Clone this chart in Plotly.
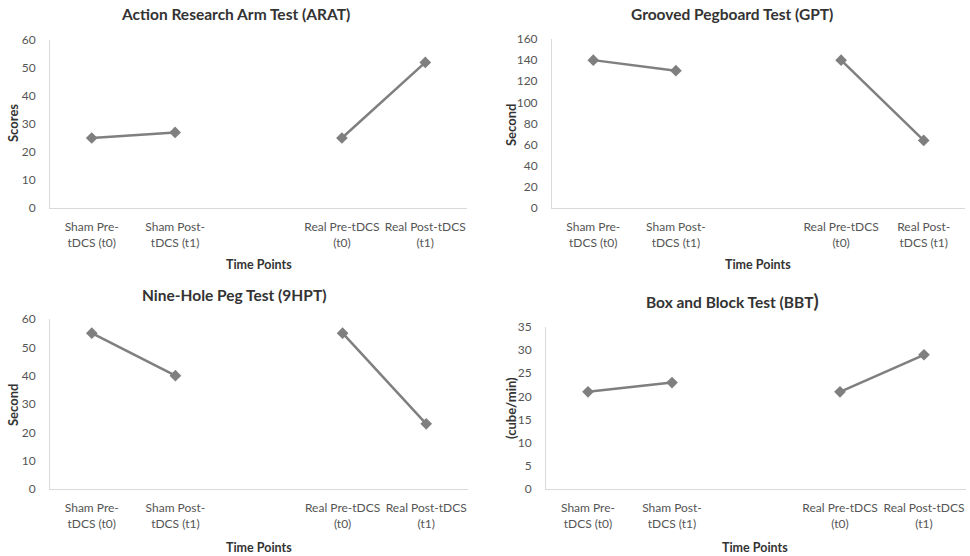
import plotly.graph_objects as go

# ---- data ----
sham_cats = ["Sham Pre-<br>tDCS (t0)", "Sham Post-<br>tDCS (t1)"]
real_cats_a = ["Real Pre-tDCS<br>(t0)", "Real Post-tDCS<br>(t1)"]
real_cats_b = ["Real Pre-tDCS<br>(t0)", "Real Post-<br>tDCS (t1)"]
gap_cat = " "

titles = ["Action Research Arm Test (ARAT)", "Grooved Pegboard Test (GPT)",
          "Nine-Hole Peg Test (9HPT)", "Box and Block Test (BBT<span style='font-size:19px'>)</span>"]
y_titles = ["Scores", "Second", "Second", "(cube/min)"]
x_title = "Time Points"

arat_sham = [25, 27]
arat_real = [25, 52]
gpt_sham = [140, 130]
gpt_real = [140, 64]
nhpt_sham = [55, 40]
nhpt_real = [55, 23]
bbt_sham = [21, 23]
bbt_real = [21, 29]

y_max = [60, 160, 60, 35]
y_step = [10, 20, 10, 5]

# ---- layout geometry (pixels) ----
W, H = 970, 556
panels = [
    dict(x0=50, x1=467, ytop=40, ybot=208, tx=235, ty=14, ax=13, ay=123, px=259, py=265),
    dict(x0=552, x1=965, ytop=39, ybot=208, tx=732, ty=14, ax=511, ay=125, px=758, py=265),
    dict(x0=50, x1=468, ytop=319, ybot=489, tx=234, ty=295, ax=13, ay=405, px=259, py=547),
    dict(x0=546, x1=966, ytop=327, ybot=489, tx=732, ty=300, ax=511, ay=408, px=755, py=547),
]
series = [(arat_sham, arat_real, real_cats_a), (gpt_sham, gpt_real, real_cats_b),
          (nhpt_sham, nhpt_real, real_cats_a), (bbt_sham, bbt_real, real_cats_a)]

FONT = "Lato, 'Open Sans', sans-serif"
LINE_COL = "#7f7f7f"
AXIS_COL = "#d9d9d9"
TXT = "#333333"
TICK_TXT = "#555555"

fig = go.Figure()
annotations = []
for i, (p, (sv, rv, rc)) in enumerate(zip(panels, series)):
    n = "" if i == 0 else str(i + 1)
    xa, ya = "x" + n, "y" + n
    for cats, vals in ((sham_cats, sv), (rc, rv)):
        fig.add_trace(go.Scatter(
            x=cats, y=vals, xaxis=xa, yaxis=ya, mode="lines+markers",
            line=dict(color=LINE_COL, width=2.5),
            marker=dict(symbol="diamond", size=9, color=LINE_COL),
            showlegend=False, hoverinfo="x+y"))
    order = sham_cats + [gap_cat] + rc
    fig.update_layout(**{
        "xaxis" + n: dict(
            domain=[p["x0"] / W, p["x1"] / W], anchor=ya,
            type="category", categoryorder="array", categoryarray=order,
            range=[-0.5, 4.5], showline=True, linecolor=AXIS_COL, linewidth=1,
            showgrid=False, zeroline=False, ticks="", automargin=False,
            tickangle=0, ticklabelstandoff=8,
            tickfont=dict(family=FONT, size=12, color=TICK_TXT),
            fixedrange=True),
        "yaxis" + n: dict(
            domain=[1 - p["ybot"] / H, 1 - p["ytop"] / H], anchor=xa,
            range=[0, y_max[i]], dtick=y_step[i], tick0=0,
            showline=True, linecolor=AXIS_COL, linewidth=1,
            showgrid=False, zeroline=False, ticks="", automargin=False,
            ticklabelstandoff=11,
            tickfont=dict(family=FONT, size=12, color=TICK_TXT),
            fixedrange=True),
    })
    annotations.append(dict(x=p["tx"] / W, y=1 - p["ty"] / H, xref="paper", yref="paper",
                            text="<b>" + titles[i] + "</b>", showarrow=False,
                            xanchor="center", yanchor="middle",
                            font=dict(family=FONT, size=15.5, color=TXT)))
    annotations.append(dict(x=p["ax"] / W, y=1 - p["ay"] / H, xref="paper", yref="paper",
                            text="<b>" + y_titles[i] + "</b>", showarrow=False, textangle=-90,
                            xanchor="center", yanchor="middle",
                            font=dict(family=FONT, size=13, color=TXT)))
    annotations.append(dict(x=p["px"] / W, y=1 - p["py"] / H, xref="paper", yref="paper",
                            text="<b>" + x_title + "</b>", showarrow=False,
                            xanchor="center", yanchor="middle",
                            font=dict(family=FONT, size=12.5, color=TXT)))

fig.update_layout(width=W, height=H, margin=dict(l=0, r=0, t=0, b=0, autoexpand=False),
                  template="none", hovermode=False,
                  paper_bgcolor="white", plot_bgcolor="white",
                  annotations=annotations, font=dict(family=FONT))
fig.write_html("out.html", config={"displayModeBar": False},
               post_script="document.body.style.margin='0';document.body.style.overflow='hidden';")
